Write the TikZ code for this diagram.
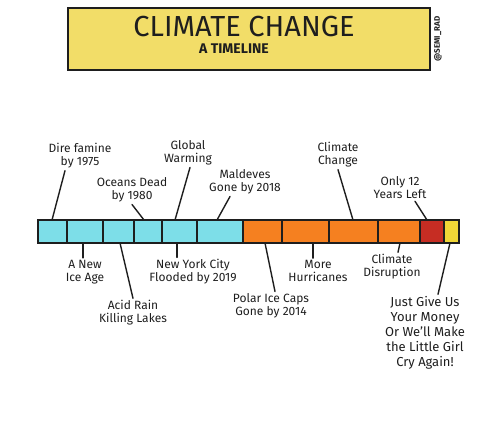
\documentclass[tikz,border=0pt]{standalone}
\usepackage{fontspec}
\setmainfont{Fira Sans}
\usepackage{xcolor}
\usepackage{tikz}
\usetikzlibrary{calc, positioning}

\definecolor{titlefill}{RGB}{242,221,104}
\definecolor{icecyan}{RGB}{125,222,232}
\definecolor{hotorange}{RGB}{245,128,32}
\definecolor{hotred}{RGB}{198,45,35}
\definecolor{hotyellow}{RGB}{240,214,55}
\definecolor{ink}{RGB}{30,30,30}

\tikzset{
    lbl/.style={align=center, text=ink, inner sep=2pt, font=\fontsize{12}{13}\selectfont},
    tick/.style={draw=ink, line width=1.4pt, line cap=round},
    cellline/.style={draw=ink, line width=1.8pt}
}

\begin{document}
\begin{tikzpicture}[x=1pt, y=-1pt]
    \useasboundingbox (0,0) rectangle (500,420);

    % Tiêu đề
    \draw[fill=titlefill, draw=ink, line width=2.2pt] (68,8) rectangle (430,70);
    \node[text=ink, font=\fontsize{29}{31}\selectfont] (title) at (244,27) {CLIMATE CHANGE};
    \node[text=ink, font=\bfseries\fontsize{14}{15}\selectfont] (subtitle) at (234,49) {A TIMELINE};
    \node[rotate=90, text=ink, font=\bfseries\fontsize{8}{9}\selectfont] (credit) at (438,39) {@SEMI\_RAD};

    % Thanh thời gian
    \fill[icecyan] (38,220) rectangle (243,243);
    \fill[hotorange] (243,220) rectangle (420,243);
    \fill[hotred] (420,220) rectangle (444,243);
    \fill[hotyellow] (444,220) rectangle (459,243);
    \draw[cellline] (38,220) rectangle (459,243);
    \draw[cellline] (67,220) -- (67,243) (103,220) -- (103,243) (134,220) -- (134,243)
        (162,220) -- (162,243) (197,220) -- (197,243) (243,220) -- (243,243)
        (282,220) -- (282,243) (329,220) -- (329,243) (378,220) -- (378,243)
        (420,220) -- (420,243) (444,220) -- (444,243);

    % Điểm trên thanh
    \coordinate (t1) at (52,220);
    \coordinate (t2) at (144,220);
    \coordinate (t3) at (175,220);
    \coordinate (t4) at (217,220);
    \coordinate (t5) at (353,220);
    \coordinate (t6) at (427,220);
    \coordinate (b1) at (83,243);
    \coordinate (b2) at (120,243);
    \coordinate (b3) at (177,243);
    \coordinate (b4) at (265,243);
    \coordinate (b5) at (313,243);
    \coordinate (b6) at (400,243);
    \coordinate (b7) at (450,243);

    % Nhãn phía trên
    \node[lbl] (dire) at (80,156) {Dire famine\\by 1975};
    \node[lbl] (oceans) at (132,190) {Oceans Dead\\by 1980};
    \node[lbl] (global) at (188,153) {Global\\Warming};
    \node[lbl] (maldeves) at (245,182) {Maldeves\\Gone by 2018};
    \node[lbl] (cchange) at (338,155) {Climate\\Change};
    \node[lbl] (only) at (400,188) {Only 12\\Years Left};

    % Nhãn phía dưới
    \node[lbl] (iceage) at (85,272) {A New\\Ice Age};
    \node[lbl] (acid) at (133,313) {Acid Rain\\Killing Lakes};
    \node[lbl] (nyc) at (193,272) {New York City\\Flooded by 2019};
    \node[lbl] (polar) at (271,306) {Polar Ice Caps\\Gone by 2014};
    \node[lbl] (hurr) at (318,271) {More\\Hurricanes};
    \node[lbl] (disr) at (392,267) {Climate\\Disruption};
    \node[lbl, font=\fontsize{13}{15}\selectfont] (money) at (425,333)
        {Just Give Us\\Your Money\\Or We'll Make\\the Little Girl\\Cry Again!};

    % Đường nối
    \draw[tick] ([xshift=-15pt]dire.south) -- (t1);
    \draw[tick] (oceans.south) -- (t2);
    \draw[tick] ([xshift=2pt]global.south) -- (t3);
    \draw[tick] ([xshift=-15pt]maldeves.south) -- (t4);
    \draw[tick] (cchange.south) -- (t5);
    \draw[tick] ([xshift=15pt]only.south) -- (t6);
    \draw[tick] (b1) -- ([xshift=-2pt]iceage.north);
    \draw[tick] (b2) -- (acid.north);
    \draw[tick] (b3) -- ([xshift=-16pt]nyc.north);
    \draw[tick] (b4) -- ([xshift=4pt]polar.north);
    \draw[tick] (b5) -- ([xshift=-5pt]hurr.north);
    \draw[tick] (b6) -- ([xshift=6pt]disr.north);
    \draw[tick] (b7) -- ([xshift=13pt]money.north);

\end{tikzpicture}
\end{document}
